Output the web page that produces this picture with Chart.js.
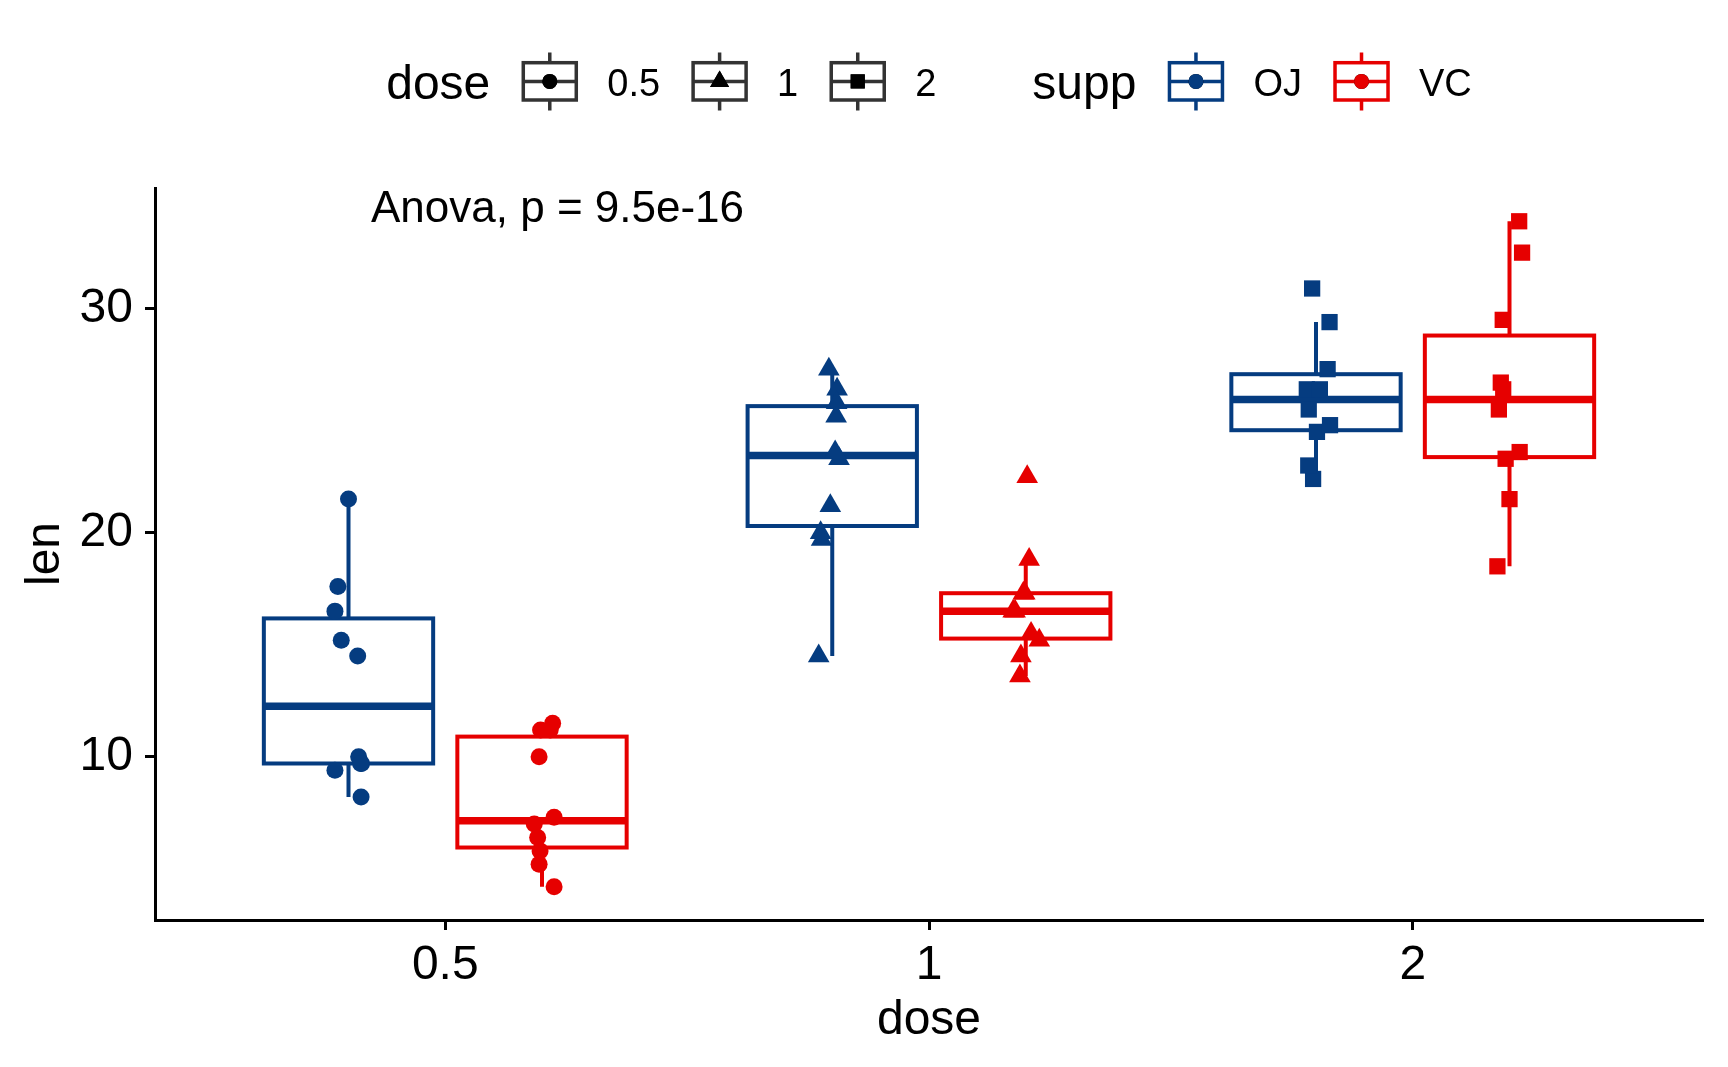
<!DOCTYPE html>
<html>
<head>
<meta charset="utf-8">
<title>len by dose and supp</title>
<script src="https://cdn.jsdelivr.net/npm/chart.js@4.4.1/dist/chart.umd.min.js"></script>
<style>
  html, body { margin: 0; padding: 0; background: #fff; }
  canvas { display: block; }
</style>
</head>
<body>
<canvas id="chart" width="1728" height="1067"></canvas>
<script>
const doses = ["0.5", "1", "2"];
const supps = ["OJ", "VC"];
const yTicks = [10, 20, 30];

// len values, one list per dose
const lenOJ = [
  [15.2, 21.5, 17.6, 9.7, 14.5, 10, 8.2, 9.4, 16.5, 9.7],
  [19.7, 23.3, 23.6, 26.4, 20, 25.2, 25.8, 21.2, 14.5, 27.3],
  [25.5, 26.4, 22.4, 24.5, 24.8, 30.9, 26.4, 27.3, 29.4, 23]
];
const lenVC = [
  [4.2, 11.5, 7.3, 5.8, 6.4, 10, 11.2, 11.2, 5.2, 7],
  [16.5, 16.5, 15.2, 17.3, 22.5, 17.3, 13.6, 14.5, 18.8, 15.5],
  [23.6, 18.5, 33.9, 25.5, 26.4, 32.5, 26.7, 21.5, 23.3, 29.5]
];
// horizontal jitter of each point (in dose units)
const jitterOJ = [
  [-0.015, 0, -0.022, 0.027, 0.019, 0.021, 0.026, -0.028, -0.028, 0.025],
  [-0.022, 0.014, 0.006, 0.01, -0.024, 0.008, 0.009, -0.004, -0.028, -0.007],
  [-0.015, -0.019, -0.006, 0.002, 0.029, -0.008, 0.008, 0.024, 0.028, -0.016]
];
const jitterVC = [
  [0.025, 0.022, 0.025, -0.004, -0.009, -0.006, -0.003, 0.017, -0.006, -0.016],
  [-0.026, -0.022, 0.028, -0.005, 0.003, -0.002, -0.012, -0.01, 0.007, 0.011],
  [0.021, -0.025, 0.02, -0.022, -0.013, 0.026, -0.018, 0, -0.008, -0.014]
];

const suppColors = ["#053C80", "#E60000"];
const doseShapes = ["circle", "triangle", "rect"];
const shapeRadius = { circle: 8.5, triangle: 12.5, rect: 11.5 };
const FONT = "'Liberation Sans', Arial, Helvetica, sans-serif";

const lenBySupp = [lenOJ, lenVC];
const jitterBySupp = [jitterOJ, jitterVC];
const dodge = [-0.2, 0.2];
const boxHalf = 0.175;

// quantile type 7, like R
function quantile(arr, p) {
  const s = arr.slice().sort((a, b) => a - b);
  const h = (s.length - 1) * p;
  const lo = Math.floor(h);
  const hi = Math.min(lo + 1, s.length - 1);
  return s[lo] + (h - lo) * (s[hi] - s[lo]);
}

function boxStats(arr) {
  const q1 = quantile(arr, 0.25), q3 = quantile(arr, 0.75);
  const iqr = q3 - q1;
  const inside = arr.filter(v => v >= q1 - 1.5 * iqr && v <= q3 + 1.5 * iqr);
  return { q1, med: quantile(arr, 0.5), q3, lo: Math.min(...inside), hi: Math.max(...inside) };
}

const datasets = [];
supps.forEach((s, si) => {
  doses.forEach((d, di) => {
    datasets.push({
      label: s + " " + d,
      data: lenBySupp[si][di].map((v, k) => ({ x: di + 1 + dodge[si] + jitterBySupp[si][di][k], y: v })),
      pointStyle: doseShapes[di],
      pointRadius: shapeRadius[doseShapes[di]],
      pointHoverRadius: shapeRadius[doseShapes[di]],
      backgroundColor: suppColors[si],
      borderWidth: 0,
      showLine: false
    });
  });
});

const boxPlugin = {
  id: "boxes",
  beforeDatasetsDraw(chart) {
    const { ctx, scales: { x, y } } = chart;
    ctx.save();
    ctx.lineCap = "butt";
    supps.forEach((s, si) => doses.forEach((d, di) => {
      const st = boxStats(lenBySupp[si][di]);
      const c = di + 1 + dodge[si];
      const xl = x.getPixelForValue(c - boxHalf);
      const xr = x.getPixelForValue(c + boxHalf);
      const xc = x.getPixelForValue(c);
      const yt = y.getPixelForValue(st.q3), yb = y.getPixelForValue(st.q1);
      ctx.strokeStyle = suppColors[si];
      ctx.lineWidth = 4;
      ctx.beginPath();
      ctx.moveTo(xc, y.getPixelForValue(st.hi)); ctx.lineTo(xc, yt);
      ctx.moveTo(xc, yb); ctx.lineTo(xc, y.getPixelForValue(st.lo));
      ctx.stroke();
      ctx.fillStyle = "#fff";
      ctx.fillRect(xl, yt, xr - xl, yb - yt);
      ctx.strokeRect(xl, yt, xr - xl, yb - yt);
      const ym = y.getPixelForValue(st.med);
      ctx.lineWidth = 7.5;
      ctx.beginPath();
      ctx.moveTo(xl, ym); ctx.lineTo(xr, ym);
      ctx.stroke();
    }));
    ctx.restore();
  }
};

function drawKey(ctx, left, w, color, shape, pointColor) {
  const top = 62.7, bottom = 100, mid = 81.4, cx = left + w / 2;
  ctx.strokeStyle = color;
  ctx.lineWidth = 3.5;
  ctx.beginPath();
  ctx.moveTo(cx, 52.5); ctx.lineTo(cx, top);
  ctx.moveTo(cx, bottom); ctx.lineTo(cx, 110.5);
  ctx.stroke();
  ctx.strokeRect(left, top, w, bottom - top);
  ctx.beginPath();
  ctx.moveTo(left, mid); ctx.lineTo(left + w, mid);
  ctx.stroke();
  const r = { circle: 7.5, triangle: 11, rect: 10 }[shape];
  Chart.helpers.drawPoint(ctx, { pointStyle: shape, radius: r, borderWidth: 0, rotation: 0 }, cx, mid);
  ctx.fillStyle = pointColor;
  ctx.fill();
  return w;
}

const legendPlugin = {
  id: "topLegend",
  afterDraw(chart) {
    const { ctx, chartArea } = chart;
    const titleFont = "48px " + FONT, labelFont = "38px " + FONT;
    const groups = [
      { title: "dose", keys: doses.map((d, i) => ({ label: d, color: "#333333", shape: doseShapes[i], fill: "#000" })) },
      { title: "supp", keys: supps.map((s, i) => ({ label: s, color: suppColors[i], shape: "circle", fill: suppColors[i] })) }
    ];
    const keyW = 53, gapTitle = 33, gapKey = 31, gapLabel = 33, gapGroup = 96;
    ctx.save();
    let total = 0;
    groups.forEach((g, gi) => {
      ctx.font = titleFont;
      total += ctx.measureText(g.title).width + gapTitle;
      ctx.font = labelFont;
      g.keys.forEach((k, ki) => {
        total += keyW + gapKey + ctx.measureText(k.label).width;
        if (ki < g.keys.length - 1) total += gapLabel;
      });
      if (gi < groups.length - 1) total += gapGroup;
    });
    let x = (chartArea.left + chartArea.right) / 2 - total / 2;
    ctx.textBaseline = "alphabetic";
    ctx.textAlign = "left";
    groups.forEach((g, gi) => {
      ctx.font = titleFont;
      ctx.fillStyle = "#000";
      ctx.fillText(g.title, x, 98.5);
      x += ctx.measureText(g.title).width + gapTitle;
      g.keys.forEach((k, ki) => {
        x += drawKey(ctx, x, keyW, k.color, k.shape, k.fill) + gapKey;
        ctx.font = labelFont;
        ctx.fillStyle = "#000";
        ctx.fillText(k.label, x, 96);
        x += ctx.measureText(k.label).width;
        if (ki < g.keys.length - 1) x += gapLabel;
      });
      if (gi < groups.length - 1) x += gapGroup;
    });
    // test label
    ctx.font = "44px " + FONT;
    ctx.fillStyle = "#000";
    ctx.fillText("Anova, p = 9.5e-16", chartArea.left + 216, 222);
    ctx.restore();
  }
};

const axisFont = { family: FONT, size: 48 };

new Chart(document.getElementById("chart"), {
  type: "scatter",
  data: { datasets },
  options: {
    responsive: false,
    animation: false,
    devicePixelRatio: 1,
    layout: { padding: { top: 188, right: 25, left: 0, bottom: 0 } },
    plugins: { legend: { display: false }, tooltip: { enabled: false } },
    scales: {
      x: {
        type: "linear",
        min: 0.4,
        max: 3.6,
        afterFit(s) { s.height = 147; },
        afterBuildTicks(s) { s.ticks = doses.map((d, i) => ({ value: i + 1 })); },
        ticks: { callback: (v, i) => doses[i], font: axisFont, color: "#000", padding: 7, maxRotation: 0 },
        grid: { display: true, drawOnChartArea: false, drawTicks: true, tickLength: 10, tickWidth: 3, tickColor: "#000" },
        border: { display: true, color: "#000", width: 3 },
        title: { display: true, text: "dose", font: axisFont, color: "#000", padding: { top: 0, bottom: 17.5 } }
      },
      y: {
        min: 2.715,
        max: 35.385,
        afterFit(s) { s.width = 155; },
        afterBuildTicks(s) { s.ticks = yTicks.map(v => ({ value: v })); },
        ticks: { font: axisFont, color: "#000", padding: 12 },
        grid: { display: true, drawOnChartArea: false, drawTicks: true, tickLength: 10, tickWidth: 3, tickColor: "#000" },
        border: { display: true, color: "#000", width: 3 },
        title: { display: true, text: "len", font: axisFont, color: "#000", padding: { top: 16.5, bottom: 0 } }
      }
    }
  },
  plugins: [boxPlugin, legendPlugin]
});
</script>
</body>
</html>
